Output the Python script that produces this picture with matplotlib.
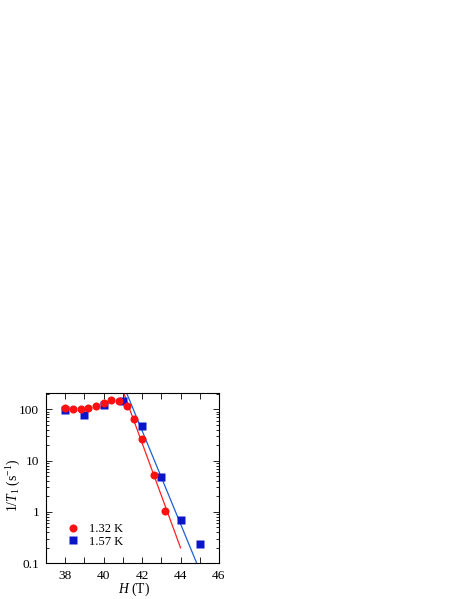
import matplotlib
matplotlib.use("Agg")
import matplotlib.pyplot as plt
from matplotlib.ticker import LogLocator, NullFormatter, MultipleLocator, FixedLocator

plt.rcParams['font.family'] = ['Liberation Serif', 'DejaVu Serif']
plt.rcParams['mathtext.fontset'] = 'custom'
plt.rcParams['mathtext.rm'] = 'Liberation Serif'
plt.rcParams['mathtext.it'] = 'Liberation Serif:italic'

# Data: 1.32 K (red circles)
h_132 = [38.0, 38.4, 38.8, 39.2, 39.6, 40.0, 40.4, 40.8, 41.2, 41.6, 42.0, 42.6, 43.2]
r_132 = [106, 102, 101, 106, 116, 130, 150, 148, 115, 64, 26, 5.3, 1.03]
# Data: 1.57 K (blue squares)
h_157 = [38.0, 39.0, 40.0, 41.0, 42.0, 43.0, 44.0, 45.0]
r_157 = [96, 79, 122, 145, 48, 4.9, 0.69, 0.24]
# Fit lines (endpoints)
fit_132_h = [40.9, 44.0]
fit_132_r = [290, 0.2]
fit_157_h = [41.0, 44.95]
fit_157_r = [310, 0.08]

labels = ['1.32 K', '1.57 K']
red = '#ff1010'
blue = '#0a14c8'
line_red = '#ff2020'
line_blue = '#1c5fd6'

fig = plt.figure(figsize=(4.63, 5.99), dpi=100)
ax = fig.add_axes([46/463, 35.7/599, 173/463, 170.6/599])

ax.plot(fit_132_h, fit_132_r, color=line_red, lw=0.9, zorder=2)
ax.plot(fit_157_h, fit_157_r, color=line_blue, lw=0.9, zorder=2)
ax.plot(h_157, r_157, 's', color=blue, ms=5.2, mec='none', label=labels[1], zorder=3)
ax.plot(h_132, r_132, 'o', color=red, ms=5.8, mec='none', label=labels[0], zorder=4)

ax.set_yscale('log')
ax.set_xlim(37, 46)
ax.set_ylim(0.1, 210)
ax.xaxis.set_major_locator(FixedLocator([38, 40, 42, 44, 46]))
ax.xaxis.set_minor_locator(MultipleLocator(1))
ax.yaxis.set_major_locator(FixedLocator([0.1, 1, 10, 100]))
ax.set_yticklabels(['0.1', '1', '10', '100'])
ax.yaxis.set_minor_locator(LogLocator(base=10, subs=range(2, 10), numticks=20))
ax.yaxis.set_minor_formatter(NullFormatter())
ax.tick_params(which='both', direction='in', top=True, right=True, labelsize=9.6, width=0.6, pad=5)
ax.tick_params(which='major', length=4)
ax.tick_params(which='minor', length=2.2)
ax.tick_params(axis='x', which='minor', length=4)
for s in ax.spines.values():
    s.set_linewidth(0.8)

ax.set_xlabel(r'$H$ (T)', fontsize=9.8)
ax.xaxis.set_label_coords((134 - 46) / 173, -(589.5 - 563.3) / 170.6)
ax.xaxis.label.set_va('center')
ax.set_ylabel(r'1/$T_1$ (s$^{-1}$)', fontsize=9.8)
ax.yaxis.set_label_coords((14 - 46) / 173, (563.3 - 485) / 170.6)
ax.yaxis.label.set_va('center')

handles, labs = ax.get_legend_handles_labels()
order = [1, 0]
ax.legend([handles[i] for i in order], [labs[i] for i in order], loc='lower left',
          bbox_to_anchor=(0.07, 0.04), frameon=False, fontsize=9, handlelength=1.0,
          handletextpad=0.8, labelspacing=0.05, borderpad=0.2)

fig.savefig('out.png', dpi=100)
